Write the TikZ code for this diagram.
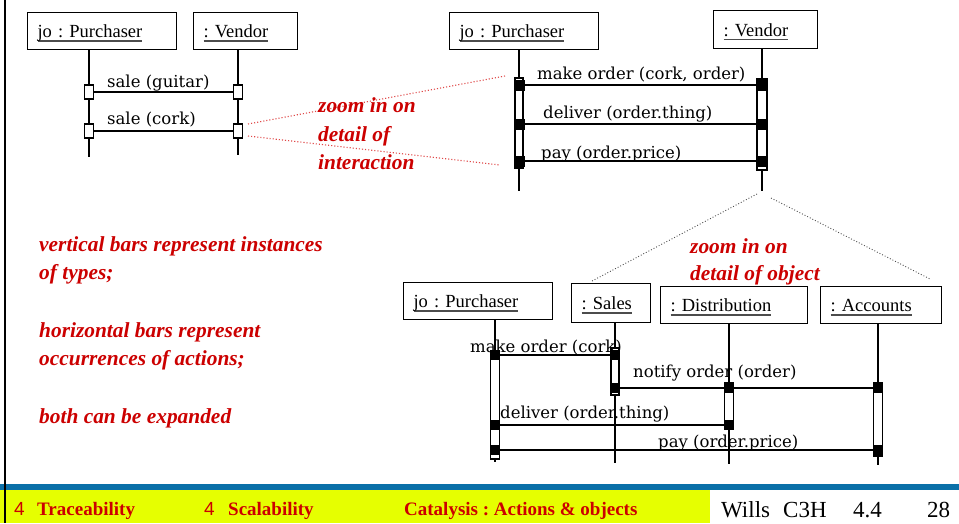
\documentclass[tikz,border=0pt]{standalone}
\usepackage{fontspec}
\setmainfont{Liberation Serif}
\newfontfamily\msgfont{DejaVu Serif}
\newfontfamily\notefont{Liberation Serif}
\newfontfamily\digitfont{Liberation Sans}
\definecolor{notered}{HTML}{CC0000}
\definecolor{bandblue}{HTML}{0B70A8}
\definecolor{bandyellow}{HTML}{E6FF00}
\definecolor{zoomred}{HTML}{E04848}
% object name with a grey underline just below the baseline
\newcommand\objname[1]{\setbox0\hbox{#1}\rlap{\color{black!70}\rule[-4pt]{\wd0}{1.2pt}}\box0}
\frenchspacing
\begin{document}
\frenchspacing
\begin{tikzpicture}[x=1pt,y=-1pt,
  objbox/.style={draw=black, line width=1.1pt, fill=white, anchor=north west,
    inner xsep=10pt, inner ysep=0pt, align=left, text height=15pt, text depth=2pt,
    font=\fontsize{18.5}{20}\selectfont},
  lifeline/.style={line width=1.8pt},
  msgline/.style={line width=1.8pt},
  hollowsq/.style={draw=black, line width=1.1pt, fill=white, minimum width=9pt, minimum height=14pt, inner sep=0pt},
  solidsq/.style={fill=black, minimum width=11pt, minimum height=11pt, inner sep=0pt},
  actbar/.style={draw=black, line width=1.1pt, fill=white, minimum width=8pt, inner sep=0pt},
  msglabel/.style={anchor=base west, inner sep=0pt, font=\msgfont\fontsize{16.5}{18}\selectfont},
  note/.style={anchor=base west, inner sep=0pt, text=notered, font=\notefont\bfseries\itshape\fontsize{21.4}{23}\selectfont},
  zoomlink/.style={draw=zoomred, line width=1.1pt, dotted},
  objlink/.style={draw=black!70, line width=0.9pt, dotted},
  foottag/.style={anchor=base west, inner sep=0pt, text=notered, font=\bfseries\fontsize{19}{20}\selectfont},
  footnum/.style={anchor=base west, inner sep=0pt, text=notered, font=\digitfont\fontsize{19}{20}\selectfont},
  footinfo/.style={anchor=base west, inner sep=0pt, font=\fontsize{23}{24}\selectfont},
]
\useasboundingbox (0,0) rectangle (959,523);
\fill[white] (0,0) rectangle (959,523);

% ---------- footer bands and left rule ----------
\fill[bandblue] (0,484) rectangle (959,490);
\fill[bandyellow] (0,490) rectangle (710,523);
\draw[line width=2.5pt] (5,0) -- (5,523);

% ---------- small sequence: purchaser and vendor ----------
\node[objbox, text width=129pt, minimum height=37pt] (tP) at (27,12) {\objname{jo : Purchaser}};
\node[objbox, text width=84pt, minimum height=37pt] (tV) at (193,12) {\objname{: Vendor}};
\coordinate (tPend) at (89,157);
\coordinate (tVend) at (238,155);
\draw[lifeline] (tPend |- tP.south) -- (tPend);
\draw[lifeline] (tVend |- tV.south) -- (tVend);

\coordinate (tm1a) at (89,92);  \coordinate (tm1b) at (238,92);
\coordinate (tm2a) at (89,131); \coordinate (tm2b) at (238,131);
\draw[msgline] (tm1a) -- (tm1b);
\draw[msgline] (tm2a) -- (tm2b);
\node[hollowsq] (tq1a) at (tm1a) {};
\node[hollowsq] (tq1b) at (tm1b) {};
\node[hollowsq] (tq2a) at (tm2a) {};
\node[hollowsq] (tq2b) at (tm2b) {};
\node[msglabel] (tl1) at (107,87) {sale (guitar)};
\node[msglabel] (tl2) at (107,124) {sale (cork)};

% ---------- zoom onto the interaction ----------
\coordinate (zl1) at (248,124);
\coordinate (zl2) at (248,136);
\coordinate (zr1) at (505,76);
\coordinate (zr2) at (500,165);
\draw[zoomlink] (zl1) -- (zr1);
\draw[zoomlink] (zl2) -- (zr2);
\node[note] (zi1) at (318,112) {zoom in on};
\node[note] (zi2) at (318,141) {detail of};
\node[note] (zi3) at (318,169) {interaction};

% ---------- refined interaction ----------
\node[objbox, text width=129pt, minimum height=37pt] (rP) at (449,12) {\objname{jo : Purchaser}};
\node[objbox, text width=84pt, minimum height=38pt] (rV) at (713,10) {\objname{: Vendor}};
\coordinate (rPend) at (519,191);
\coordinate (rVend) at (762,191);
\draw[lifeline] (rPend |- rP.south) -- (rPend);
\draw[lifeline] (rVend |- rV.south) -- (rVend);
\node[actbar, minimum height=90pt] (rPbar) at (519,123) {};
\node[actbar, minimum width=10pt, minimum height=91pt] (rVbar) at (762,124.5) {};

\coordinate (rm1a) at (519,85);  \coordinate (rm1b) at (762,85);
\coordinate (rm2a) at (519,124); \coordinate (rm2b) at (762,124);
\coordinate (rm3a) at (519,161); \coordinate (rm3b) at (762,161);
\draw[msgline] (rm1a) -- (rm1b);
\draw[msgline] (rm2a) -- (rm2b);
\draw[msgline] (rm3a) -- (rm3b);
\foreach \m in {rm1a,rm1b,rm2a,rm2b,rm3a,rm3b} \node[solidsq] (sq-\m) at (\m) {};
\node[msglabel] (rl1) at (537,79) {make order (cork, order)};
\node[msglabel] (rl2) at (543,118) {deliver (order.thing)};
\node[msglabel] (rl3) at (541,158) {pay (order.price)};

% ---------- zoom onto the vendor object ----------
\coordinate (ov1) at (757,194);
\coordinate (ov2) at (771,198);
\coordinate (os) at (592,281);
\coordinate (oa) at (930,279);
\draw[objlink] (ov1) -- (os);
\draw[objlink] (ov2) -- (oa);
\node[note] (zo1) at (690,253) {zoom in on};
\node[note] (zo2) at (690,280) {detail of object};

% ---------- vendor split into sales, distribution, accounts ----------
\node[objbox, text width=129pt, minimum height=37pt] (bP) at (403,282) {\objname{jo : Purchaser}};
\node[objbox, text width=59pt, minimum height=39pt] (bS) at (571,283) {\objname{: Sales}};
\node[objbox, text width=127pt, minimum height=37pt] (bD) at (660,286) {\objname{: Distribution}};
\node[objbox, text width=101pt, minimum height=37pt] (bA) at (820,286) {\objname{: Accounts}};
\coordinate (bPend) at (495,462);
\coordinate (bSend) at (615,463);
\coordinate (bDend) at (729,464);
\coordinate (bAend) at (878,465);
\draw[lifeline] (bPend |- bP.south) -- (bPend);
\draw[lifeline] (bSend |- bS.south) -- (bSend);
\draw[lifeline] (bDend |- bD.south) -- (bDend);
\draw[lifeline] (bAend |- bA.south) -- (bAend);
\node[actbar, minimum width=9pt, minimum height=107pt] (bPbar) at (495,405.5) {};
\node[actbar, minimum height=47pt] (bSbar) at (615,371.5) {};
\node[actbar, minimum width=9pt, minimum height=46pt] (bDbar) at (729,406) {};
\node[actbar, minimum width=9pt, minimum height=73pt] (bAbar) at (878,419.5) {};

\coordinate (bm1a) at (495,355); \coordinate (bm1b) at (615,355);
\coordinate (bm2a) at (615,388); \coordinate (bm2b) at (729,388); \coordinate (bm2c) at (878,388);
\coordinate (bm3a) at (729,425); \coordinate (bm3b) at (495,425);
\coordinate (bm4a) at (878,450); \coordinate (bm4b) at (495,450);
\draw[msgline] (bm1a) -- (bm1b);
\draw[msgline] (bm2a) -- (bm2b) -- (bm2c);
\draw[msgline] (bm3a) -- (bm3b);
\draw[msgline] (bm4a) -- (bm4b);
\foreach \m in {bm1a,bm1b,bm2a,bm2b,bm2c,bm3a,bm3b,bm4a,bm4b}
  \node[solidsq, minimum width=10pt, minimum height=10pt] (sq-\m) at (\m) {};
\node[msglabel] (bl1) at (470,352) {make order (cork)};
\node[msglabel] (bl2) at (633,377) {notify order (order)};
\node[msglabel] (bl3) at (500,418) {deliver (order.thing)};
\node[msglabel] (bl4) at (658,447) {pay (order.price)};

% ---------- explanatory notes ----------
\node[note] (n1) at (39,251) {vertical bars represent instances};
\node[note] (n2) at (39,279) {of types;};
\node[note] (n3) at (39,337) {horizontal bars represent};
\node[note] (n4) at (39,365) {occurrences of actions;};
\node[note] (n5) at (39,423) {both can be expanded};

% ---------- footer text ----------
\node[footnum] (f1n) at (14,515) {4};
\node[foottag] (f1) at (37,515) {Traceability};
\node[footnum] (f2n) at (204,515) {4};
\node[foottag] (f2) at (228,515) {Scalability};
\node[foottag] (f3) at (404,515) {Catalysis : Actions \& objects};
\node[footinfo] (f4) at (721,517) {Wills};
\node[footinfo] (f5) at (783,517) {C3H};
\node[footinfo] (f6) at (853,517) {4.4};
\node[footinfo] (f7) at (927,517) {28};
\end{tikzpicture}
\end{document}
